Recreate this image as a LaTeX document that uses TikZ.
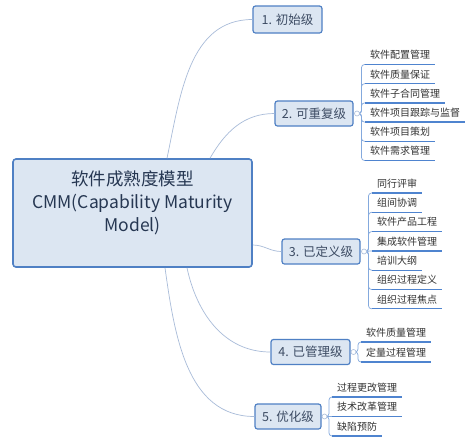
\documentclass[tikz,border=0pt]{standalone}
\usepackage{fontspec}
\newfontfamily\cjk{Noto Sans CJK SC}
\usetikzlibrary{positioning,calc}
\definecolor{boxfill}{HTML}{DCE6F2}
\definecolor{boxline}{HTML}{4F80C4}
\definecolor{branchcol}{HTML}{A9BCD9}
\definecolor{ulinecol}{HTML}{4F84CF}
\definecolor{labeltext}{HTML}{263752}

\begin{document}
\begin{tikzpicture}[x=1pt, y=1pt,
    rootbox/.style={draw=boxline, line width=1.6pt, fill=boxfill, rounded corners=3pt, align=center,
        minimum width=239pt, minimum height=108pt, font=\cjk\fontsize{17.5}{23}\selectfont, text=labeltext},
    levelbox/.style={draw=boxline, line width=1.2pt, fill=boxfill, rounded corners=2.5pt, inner xsep=4pt,
        minimum height=25pt, font=\cjk\fontsize{12.5}{14}\selectfont, text=labeltext!90},
    leaf/.style={anchor=south west, inner xsep=5pt, inner ysep=3.5pt, text height=8.3pt, text depth=2pt,
        font=\cjk\fontsize{10}{12}\selectfont, text=black!80},
    knob/.style={circle, draw=branchcol, fill=white, line width=0.6pt, inner sep=0pt, minimum size=5pt},
    limb/.style={draw=branchcol, line width=0.7pt},
    twig/.style={draw=ulinecol!70, line width=0.7pt, rounded corners=3pt},
    underline/.style={draw=ulinecol, line width=1.3pt}]
    \fill[white] (0,0) rectangle (474,-440);

    % central topic and the five levels
    \node[rootbox] (cmm) at (132.5,-213) {软件成熟度模型\\CMM(Capability Maturity\\Model)\\\mbox{}};
    \node[levelbox, minimum width=69pt, minimum height=27pt] (l1) at (287.5,-19.5) {1. 初始级};
    \node[levelbox, minimum width=78pt] (l2) at (314,-113.5) {2. 可重复级};
    \node[levelbox, minimum width=78pt] (l3) at (321,-251.5) {3. 已定义级};
    \node[levelbox, minimum width=79pt] (l4) at (310.5,-352) {4. 已管理级};
    \node[levelbox, minimum width=66pt] (l5) at (288,-416.5) {5. 优化级};

    \draw[limb] ([xshift=34.5pt]cmm.north) to[out=78,in=180] (l1.west);
    \draw[limb] ([xshift=77.5pt]cmm.north) to[out=60,in=180] (l2.west);
    \draw[limb] ([yshift=-32pt]cmm.east) to[out=0,in=180] (l3.west);
    \draw[limb] ([xshift=54.5pt]cmm.south) to[out=-78,in=180] (l4.west);
    \draw[limb] ([xshift=32.5pt]cmm.south) to[out=-82,in=180] (l5.west);

    % level 2
    \foreach \txt [count=\i] in {软件配置管理,软件质量保证,软件子合同管理,软件项目跟踪与监督,软件项目策划,软件需求管理}
        \node[leaf] (a\i) at (365,{-64.5-19.2*(\i-1)}) {\txt};
    \foreach \i in {1,...,6} {
        \draw[twig] (357,-113.5) -- ++(4.5,0) |- (a\i.south west);
        \draw[underline] (a\i.south west) -- (a\i.south east);
    }
    \node[knob] (k2) at (357,-113.5) {};

    % level 3
    \foreach \txt [count=\i] in {同行评审,组间协调,软件产品工程,集成软件管理,培训大纲,组织过程定义,组织过程焦点}
        \node[leaf] (b\i) at (372,{-193-19.3*(\i-1)}) {\txt};
    \foreach \i in {1,2,3,5,6,7}
        \draw[twig] (364,-251.5) -- ++(4.5,0) |- (b\i.south west);
    \draw[twig] (364,-251.5) -- (b4.south west);
    \foreach \i in {1,...,7}
        \draw[underline] (b\i.south west) -- (b\i.south east);
    \node[knob] (k3) at (364,-251.5) {};

    % level 4
    \node[leaf] (c1) at (361,-342) {软件质量管理};
    \node[leaf] (c2) at (361,-362) {定量过程管理};
    \foreach \i in {1,2} {
        \draw[twig] (353.5,-352) -- ++(4.5,0) |- (c\i.south west);
        \draw[underline] (c\i.south west) -- (c\i.south east);
    }
    \node[knob] (k4) at (353.5,-352) {};

    % level 5
    \foreach \txt [count=\i] in {过程更改管理,技术改革管理,缺陷预防}
        \node[leaf] (d\i) at (332,{-397-19.5*(\i-1)}) {\txt};
    \foreach \i in {1,3}
        \draw[twig] (324.5,-416.5) -- ++(4.5,0) |- (d\i.south west);
    \draw[twig] (324.5,-416.5) -- (d2.south west);
    \foreach \i in {1,2,3}
        \draw[underline] (d\i.south west) -- (d\i.south east);
    \node[knob] (k5) at (324.5,-416.5) {};
\end{tikzpicture}
\end{document}
